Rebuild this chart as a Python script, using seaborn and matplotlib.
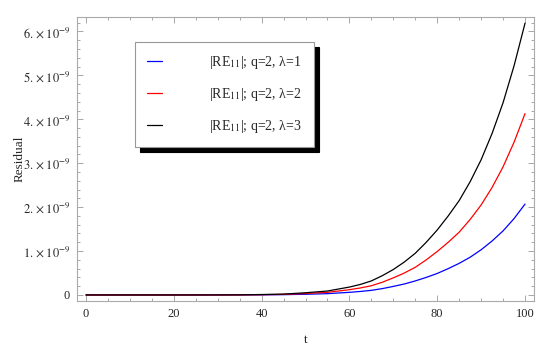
import numpy as np
import pandas as pd
import seaborn as sns
from matplotlib import pyplot as plt
from matplotlib.ticker import MultipleLocator, FixedLocator

# values (units of 1e-9)
t = [0, 10, 20, 30, 35, 40, 45, 50, 55, 60, 62.5, 65, 67.5, 70, 72.5, 75, 77.5,
     80, 82.5, 85, 87.5, 90, 92.5, 95, 97.5, 100]
res_l1 = [0, 0, 0, 0, 0.001, 0.003, 0.007, 0.016, 0.03, 0.06, 0.08, 0.105, 0.145, 0.195, 0.25, 0.32, 0.4,
          0.49, 0.6, 0.72, 0.86, 1.03, 1.23, 1.46, 1.74, 2.07]
res_l2 = [0, 0, 0, 0.001, 0.002, 0.006, 0.014, 0.033, 0.06, 0.12, 0.16, 0.21, 0.29, 0.39, 0.5, 0.63, 0.8,
          0.99, 1.2, 1.43, 1.72, 2.05, 2.45, 2.92, 3.48, 4.13]
res_l3 = [0, 0, 0, 0.001, 0.003, 0.01, 0.02, 0.05, 0.09, 0.18, 0.24, 0.32, 0.44, 0.58, 0.75, 0.95, 1.2,
          1.48, 1.8, 2.15, 2.58, 3.08, 3.68, 4.38, 5.22, 6.19]
labels = [r'|RE$_{11}$|; q=2, λ=1 ', r'|RE$_{11}$|; q=2, λ=2 ', r'|RE$_{11}$|; q=2, λ=3 ']
colors = ['blue', 'red', 'black']
ytick_labels = ['0'] + [r'$%d.\times 10^{-9}$' % i for i in range(1, 7)]

frames = []
for lab, vals in zip(labels, [res_l1, res_l2, res_l3]):
    frames.append(pd.DataFrame({'t': t, 'r': np.array(vals) * 1e-9, 'series': lab}))
df = pd.concat(frames)

sns.set_style('ticks')
plt.rcParams['font.family'] = ['Liberation Serif', 'DejaVu Serif']
plt.rcParams['mathtext.fontset'] = 'stix'
plt.rcParams['font.size'] = 9

fig = plt.figure(figsize=(5.5, 3.51), dpi=100)
ax = fig.add_axes([0.14, 0.1425, 0.831, 0.8091])
sns.lineplot(data=df, x='t', y='r', hue='series', palette=colors, linewidth=0.9, ax=ax)

ax.set_xlim(-2.05, 102.05)
ax.set_ylim(-0.137e-9, 6.33e-9)
ax.xaxis.set_major_locator(MultipleLocator(20))
ax.xaxis.set_minor_locator(MultipleLocator(5))
ax.yaxis.set_major_locator(FixedLocator([i * 1e-9 for i in range(7)]))
ax.yaxis.set_minor_locator(FixedLocator([i * 0.2e-9 for i in range(32)]))
ax.set_yticklabels(ytick_labels)
ax.tick_params(which='both', direction='in', top=True, right=True, color='#999999', width=0.6)
ax.tick_params(which='major', length=4, labelsize=9, pad=5)
ax.tick_params(which='minor', length=2)
for s in ax.spines.values():
    s.set_color('#aaaaaa')
    s.set_linewidth(0.8)

ax.set_xlabel('t', fontsize=9.5, labelpad=10)
ax.set_ylabel('Residual', fontsize=9.5)
ax.yaxis.set_label_coords(-0.113, 0.5)

leg = ax.legend(loc='upper left', bbox_to_anchor=(0.127, 0.912), borderaxespad=0,
                fancybox=False, edgecolor='#999999', framealpha=1,
                shadow={'color': 'black', 'alpha': 1, 'ox': 3.5, 'oy': -3.5},
                handlelength=1.08, handletextpad=3.4, labelspacing=1.1,
                borderpad=0.85, fontsize=10)
leg.get_frame().set_linewidth(0.8)

fig.savefig('out.png', dpi=100)
